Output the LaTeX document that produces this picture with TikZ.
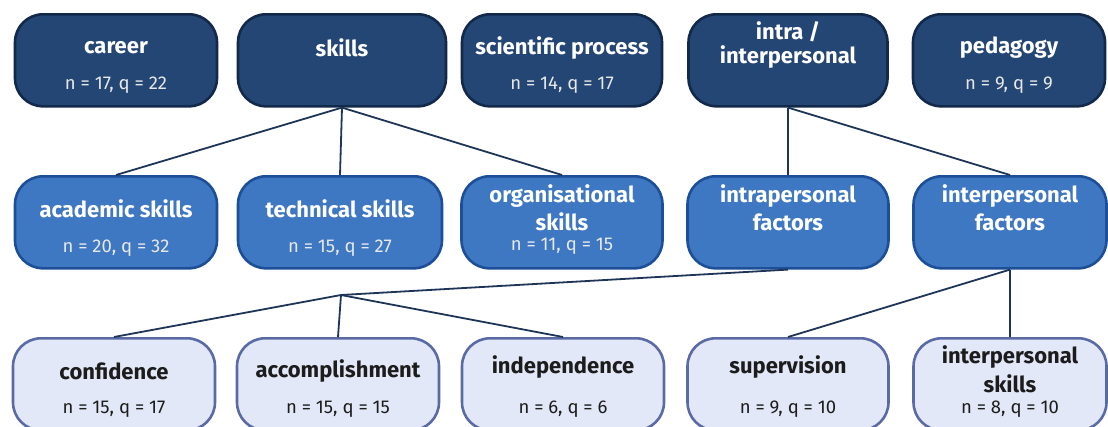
\documentclass[tikz,border=0pt]{standalone}
\usepackage{fontspec}
\setmainfont{Fira Sans}
\definecolor{topfill}{HTML}{244674}
\definecolor{topline}{HTML}{13294A}
\definecolor{midfill}{HTML}{3E77C2}
\definecolor{midline}{HTML}{1D4F98}
\definecolor{lowfill}{HTML}{E3E8F8}
\definecolor{lowline}{HTML}{5A6AA4}
\definecolor{linkc}{HTML}{1E3557}
\definecolor{lowtext}{HTML}{1C1C1C}
\definecolor{subgrey}{HTML}{E8E8E8}
\begin{document}
\begin{tikzpicture}[x=1pt,y=-1pt,
  box/.style={rounded corners=28pt, line width=2.6pt, minimum height=92pt,
    inner sep=0pt, anchor=north},
  boxA/.style={box, fill=topfill, draw=topline},
  boxB/.style={box, fill=midfill, draw=midline},
  boxC/.style={box, fill=lowfill, draw=lowline},
  title/.style={font=\fontsize{22}{26}\selectfont\bfseries, align=center, inner sep=0pt},
  sub/.style={font=\fontsize{18.5}{20}\selectfont, inner sep=0pt},
  onA/.style={text=white},
  subA/.style={sub, text=subgrey},
  onC/.style={text=lowtext},
  link/.style={draw=linkc, line width=1.8pt}]
\useasboundingbox (0,0) rectangle (1108,426);

\coordinate (fan) at (341,295);

% ---- top row ----
\node[boxA, minimum width=202pt] (career) at (116,13) {};
\node[boxA, minimum width=208pt] (skills) at (342,13) {};
\node[boxA, minimum width=200pt] (sci) at (562,13) {};
\node[boxA, minimum width=199pt] (intra) at (788,13) {};
\node[boxA, minimum width=192pt] (ped) at (1009,13) {};

% ---- middle row ----
\node[boxB, minimum width=202pt] (acad) at (116,175) {};
\node[boxB, minimum width=204pt] (tech) at (340,175) {};
\node[boxB, minimum width=201pt] (org) at (562,175) {};
\node[boxB, minimum width=201pt] (intraf) at (788,175) {};
\node[boxB, minimum width=193pt] (interf) at (1010,175) {};

% ---- bottom row ----
\node[boxC, minimum width=202pt] (conf) at (114,337) {};
\node[boxC, minimum width=202pt] (accomp) at (338,337) {};
\node[boxC, minimum width=202pt] (indep) at (563,337) {};
\node[boxC, minimum width=201pt] (superv) at (788,337) {};
\node[boxC, minimum width=193pt] (ipskills) at (1010,337) {};

% ---- tree links ----
\draw[link] (skills.south) -- (acad.north);
\draw[link] (skills.south) -- (tech.north);
\draw[link] (skills.south) -- (org.north);
\draw[link] (intra.south) -- (intraf.north);
\draw[link] (intra.south) -- (interf.north);
\draw[link] (intraf.south) -- (fan);
\draw[link] (fan) -- (conf.north);
\draw[link] (fan) -- (accomp.north);
\draw[link] (fan) -- (indep.north);
\draw[link] (interf.south) -- (ipskills.north);
\draw[link] (interf.south) -- (superv.north);

% ---- top row labels ----
\node[title, onA] (career-t) at ([yshift=-35pt]career.north) {career};
\node[subA] (career-n) at ([yshift=-72pt]career.north) {n = 17, q = 22};
\node[title, onA] (skills-t) at ([yshift=-35pt]skills.north) {skills};
\node[title, onA] (sci-t) at ([yshift=-35pt]sci.north) {scientific process};
\node[subA] (sci-n) at ([yshift=-72pt]sci.north) {n = 14, q = 17};
\node[title, onA, font=\fontsize{22}{24}\selectfont\bfseries] (intra-t) at ([yshift=-32pt]intra.north) {intra /\\interpersonal};
\node[title, onA] (ped-t) at ([yshift=-35pt]ped.north) {pedagogy};
\node[subA] (ped-n) at ([yshift=-72pt]ped.north) {n = 9, q = 9};

% ---- middle row labels ----
\node[title, onA] (acad-t) at ([yshift=-34pt]acad.north) {academic skills};
\node[subA] (acad-n) at ([yshift=-73pt]acad.north) {n = 20, q = 32};
\node[title, onA] (tech-t) at ([yshift=-34pt]tech.north) {technical skills};
\node[subA] (tech-n) at ([yshift=-73pt]tech.north) {n = 15, q = 27};
\node[title, onA, font=\fontsize{22}{28}\selectfont\bfseries] (org-t) at ([yshift=-33pt]org.north) {organisational\\skills};
\node[subA] (org-n) at ([yshift=-71pt]org.north) {n = 11, q = 15};
\node[title, onA, font=\fontsize{22}{28}\selectfont\bfseries] (intraf-t) at ([yshift=-33pt]intraf.north) {intrapersonal\\factors};
\node[title, onA, font=\fontsize{22}{28}\selectfont\bfseries] (interf-t) at ([yshift=-33pt]interf.north) {interpersonal\\factors};

% ---- bottom row labels ----
\node[title, onC] (conf-t) at ([yshift=-34pt]conf.north) {confidence};
\node[sub, onC] (conf-n) at ([yshift=-72pt]conf.north) {n = 15, q = 17};
\node[title, onC] (accomp-t) at ([yshift=-34pt]accomp.north) {accomplishment};
\node[sub, onC] (accomp-n) at ([yshift=-72pt]accomp.north) {n = 15, q = 15};
\node[title, onC] (indep-t) at ([yshift=-30pt]indep.north) {independence};
\node[sub, onC] (indep-n) at ([yshift=-72pt]indep.north) {n = 6, q = 6};
\node[title, onC] (superv-t) at ([yshift=-30pt]superv.north) {supervision};
\node[sub, onC] (superv-n) at ([yshift=-72pt]superv.north) {n = 9, q = 10};
\node[title, onC, font=\fontsize{22}{29}\selectfont\bfseries] (ipskills-t) at ([yshift=-32pt]ipskills.north) {interpersonal\\skills};
\node[sub, onC] (ipskills-n) at ([yshift=-72pt]ipskills.north) {n = 8, q = 10};
\end{tikzpicture}
\end{document}
